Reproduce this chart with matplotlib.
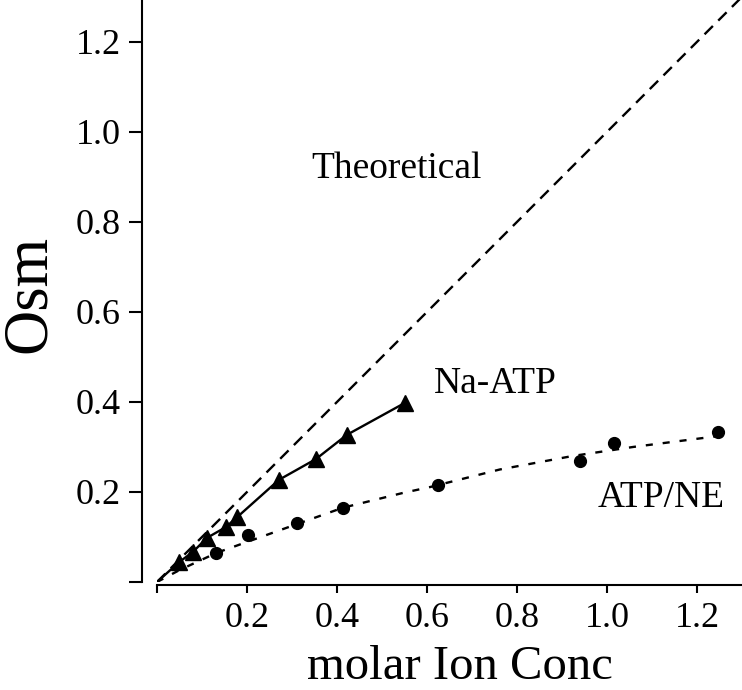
import matplotlib.pyplot as plt

plt.rcParams['font.family'] = ['Liberation Serif', 'DejaVu Serif']

# theoretical line (Osm = ion concentration)
theo_x = [0.0, 1.3]
theo_y = [0.0, 1.3]

# Na-ATP measurements (triangles)
na_x = [0.049, 0.080, 0.111, 0.153, 0.178, 0.271, 0.353, 0.422, 0.551]
na_y = [0.044, 0.067, 0.098, 0.122, 0.144, 0.227, 0.273, 0.327, 0.398]

# ATP/NE measurements (circles)
ne_x = [0.131, 0.202, 0.311, 0.413, 0.624, 0.940, 1.016, 1.247]
ne_y = [0.064, 0.104, 0.131, 0.164, 0.216, 0.269, 0.309, 0.333]

# fitted ATP/NE curve
fit_x = [0.0, 0.051, 0.133, 0.27, 0.413, 0.547, 0.607, 0.762, 0.924, 1.058, 1.269]
fit_y = [0.0, 0.027, 0.065, 0.114, 0.165, 0.198, 0.211, 0.250, 0.280, 0.300, 0.327]

xticks = [0.0, 0.2, 0.4, 0.6, 0.8, 1.0, 1.2]
xticklabels = ['', '0.2', '0.4', '0.6', '0.8', '1.0', '1.2']
yticks = [0.0, 0.2, 0.4, 0.6, 0.8, 1.0, 1.2]
yticklabels = ['', '0.2', '0.4', '0.6', '0.8', '1.0', '1.2']

fig = plt.figure(figsize=(7.42, 6.9), dpi=100)
ax = fig.add_axes([157 / 742, 108 / 690, 585 / 742, 582 / 690])

ax.plot(theo_x, theo_y, color='black', lw=1.7, linestyle=(0, (5, 3.2)))
ax.plot([0.0] + na_x, [0.0] + na_y, color='black', lw=1.7)
ax.plot(na_x, na_y, '^', color='black', ms=12, clip_on=False)
ax.plot(fit_x, fit_y, color='black', lw=1.7, linestyle=(0, (3, 4.2)))
ax.plot(ne_x, ne_y, 'o', color='black', ms=8.5, clip_on=False)

ax.set_xlim(0, 1.3)
ax.set_ylim(0, 1.293)

ax.spines['top'].set_visible(False)
ax.spines['right'].set_visible(False)
ax.spines['left'].set_position(('outward', 10.8))
ax.spines['bottom'].set_position(('outward', 2.2))
for s in ('left', 'bottom'):
    ax.spines[s].set_linewidth(1.5)

ax.set_xticks(xticks)
ax.set_xticklabels(xticklabels)
ax.set_yticks(yticks)
ax.set_yticklabels(yticklabels)
ax.tick_params(axis='x', length=6, width=1.5, pad=6, labelsize=26)
ax.tick_params(axis='y', length=9.4, width=1.5, pad=6, labelsize=26)

ax.set_xlabel('molar Ion Conc', fontsize=35, va='baseline')
ax.xaxis.set_label_coords((460 - 157) / 585, (582 - 679) / 582)
ax.set_ylabel('Osm', fontsize=45, va='baseline')
ax.yaxis.set_label_coords((45 - 157) / 585, (582 - 294) / 582)

ax.text(0.533, 0.898, 'Theoretical', fontsize=27, ha='center', va='baseline')
ax.text(0.752, 0.420, 'Na-ATP', fontsize=27, ha='center', va='baseline')
ax.text(1.120, 0.167, 'ATP/NE', fontsize=27, ha='center', va='baseline')

fig.savefig('out.png', dpi=100)
